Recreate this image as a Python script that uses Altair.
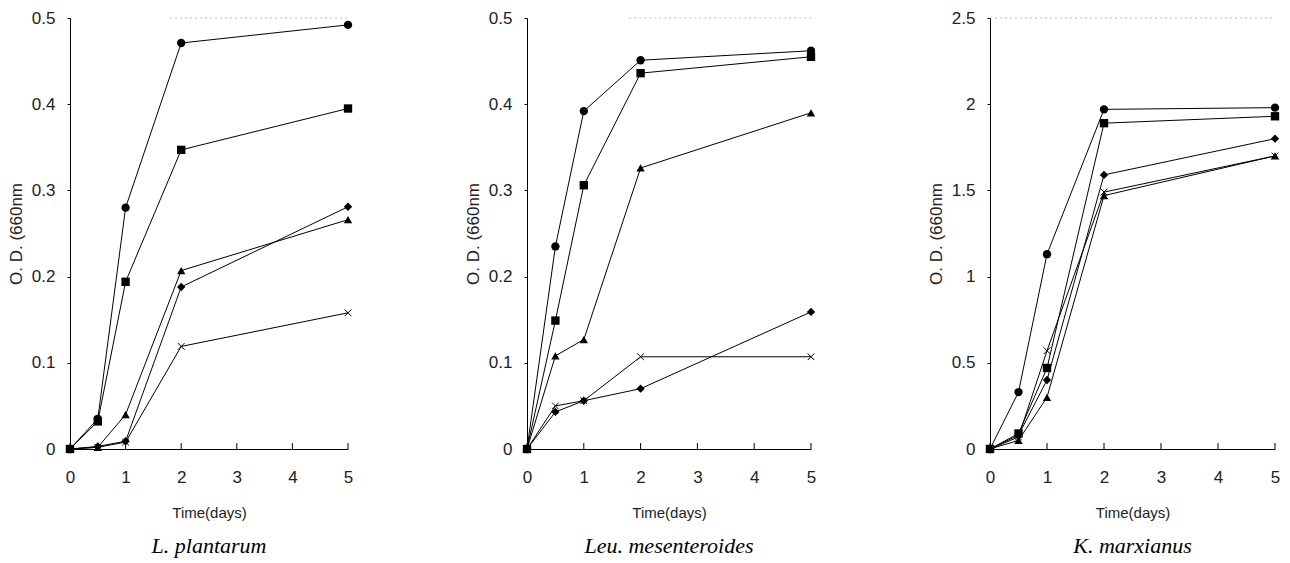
import altair as alt
import pandas as pd

# ---- data ----
days = [0, 0.5, 1, 2, 5]
series = ["circle", "square", "triangle", "diamond", "cross"]

panel_titles = ["L.  plantarum", "Leu.  mesenteroides", "K.  marxianus"]
y_max = [0.5, 0.5, 2.5]
y_ticks = [[0, 0.1, 0.2, 0.3, 0.4, 0.5],
           [0, 0.1, 0.2, 0.3, 0.4, 0.5],
           [0, 0.5, 1, 1.5, 2, 2.5]]
panel_widths = [278, 284, 285]
top_line_start = [1.8, 1.8, 0]

plantarum = {
    "circle":   [0, 0.035, 0.280, 0.471, 0.492],
    "square":   [0, 0.032, 0.194, 0.347, 0.395],
    "triangle": [0, 0.002, 0.040, 0.207, 0.266],
    "diamond":  [0, 0.003, 0.009, 0.188, 0.281],
    "cross":    [0, 0.002, 0.008, 0.119, 0.158],
}
mesenteroides = {
    "circle":   [0, 0.235, 0.392, 0.451, 0.462],
    "square":   [0, 0.149, 0.306, 0.436, 0.455],
    "triangle": [0, 0.108, 0.127, 0.326, 0.390],
    "diamond":  [0, 0.043, 0.056, 0.070, 0.159],
    "cross":    [0, 0.050, 0.056, 0.107, 0.107],
}
marxianus = {
    "circle":   [0, 0.33, 1.13, 1.97, 1.98],
    "square":   [0, 0.09, 0.47, 1.89, 1.93],
    "triangle": [0, 0.05, 0.30, 1.47, 1.70],
    "diamond":  [0, 0.08, 0.40, 1.59, 1.80],
    "cross":    [0, 0.07, 0.57, 1.49, 1.70],
}
panels = [plantarum, mesenteroides, marxianus]
x_ticks = [0, 1, 2, 3, 4, 5]

PLOT_H = 431
AXIS_FONT = "Liberation Sans"


def make_panel(i):
    data = panels[i]
    rows = []
    for s in series:
        for d, v in zip(days, data[s]):
            rows.append({"day": d, "od": v, "series": s})
    df = pd.DataFrame(rows)
    w = panel_widths[i]

    xscale = alt.Scale(domain=[0, 5], nice=False, zero=False)
    yscale = alt.Scale(domain=[0, y_max[i]], nice=False)

    xaxis = alt.Axis(values=x_ticks, format="~g", title="Time(days)", tickSize=0,
                     labelFontSize=17, labelPadding=20, labelFont=AXIS_FONT,
                     labelColor="#222", titleFont=AXIS_FONT, titleFontSize=15,
                     titleFontWeight="normal", titleColor="#222", titlePadding=20,
                     grid=False, domainColor="black", labelFlush=False)
    yaxis = alt.Axis(values=y_ticks[i], format="~g", title="O. D.  (660nm",
                     tickSize=3, tickColor="black", labelFontSize=17,
                     labelPadding=12, labelFont=AXIS_FONT, labelColor="#222",
                     titleFont=AXIS_FONT, titleFontSize=17, titleFontWeight="normal",
                     titleColor="#222", titlePadding=6, grid=False,
                     domainColor="black")

    base = alt.Chart(df)
    lines = base.mark_line(color="black", strokeWidth=1).encode(
        x=alt.X("day:Q", scale=xscale, axis=xaxis),
        y=alt.Y("od:Q", scale=yscale, axis=yaxis),
        detail="series:N",
    )
    filled = base.transform_filter(alt.datum.series != "cross").mark_point(
        filled=True, color="black", size=70, opacity=1
    ).encode(
        x="day:Q", y="od:Q",
        shape=alt.Shape("series:N", legend=None,
                        scale=alt.Scale(domain=["circle", "square", "triangle", "diamond"],
                                        range=["circle", "square", "triangle-up", "diamond"])),
    )
    crosses = base.transform_filter(alt.datum.series == "cross").mark_point(
        filled=False, color="black", size=45, strokeWidth=1, opacity=1,
        shape="M-1,-1L1,1M-1,1L1,-1",
    ).encode(x="day:Q", y="od:Q")

    tick_df = pd.DataFrame({"t": x_ticks})
    ticks = alt.Chart(tick_df).mark_rule(color="black", strokeWidth=1).encode(
        x="t:Q", y=alt.value(PLOT_H), y2=alt.value(PLOT_H - 6),
    )
    top_df = pd.DataFrame({"a": [top_line_start[i]], "b": [5], "top": [y_max[i]]})
    top = alt.Chart(top_df).mark_rule(color="#bbbbbb", strokeWidth=1,
                                      strokeDash=[2, 3]).encode(
        x="a:Q", x2="b:Q", y="top:Q",
    )

    return alt.layer(top, lines, ticks, filled, crosses).properties(
        width=w, height=PLOT_H,
        title=alt.TitleParams(text=panel_titles[i], orient="bottom",
                              font="Liberation Serif", fontStyle="italic",
                              fontSize=22, fontWeight="normal", color="black",
                              offset=16, anchor="middle"),
    )


chart = alt.hconcat(*[make_panel(i) for i in range(3)], spacing=110).properties(
    padding={"left": 7, "top": 9, "right": 5, "bottom": 5},
    background="white",
).configure_view(strokeWidth=0)

chart.save("out.html", embed_options={"renderer": "svg", "actions": False})
